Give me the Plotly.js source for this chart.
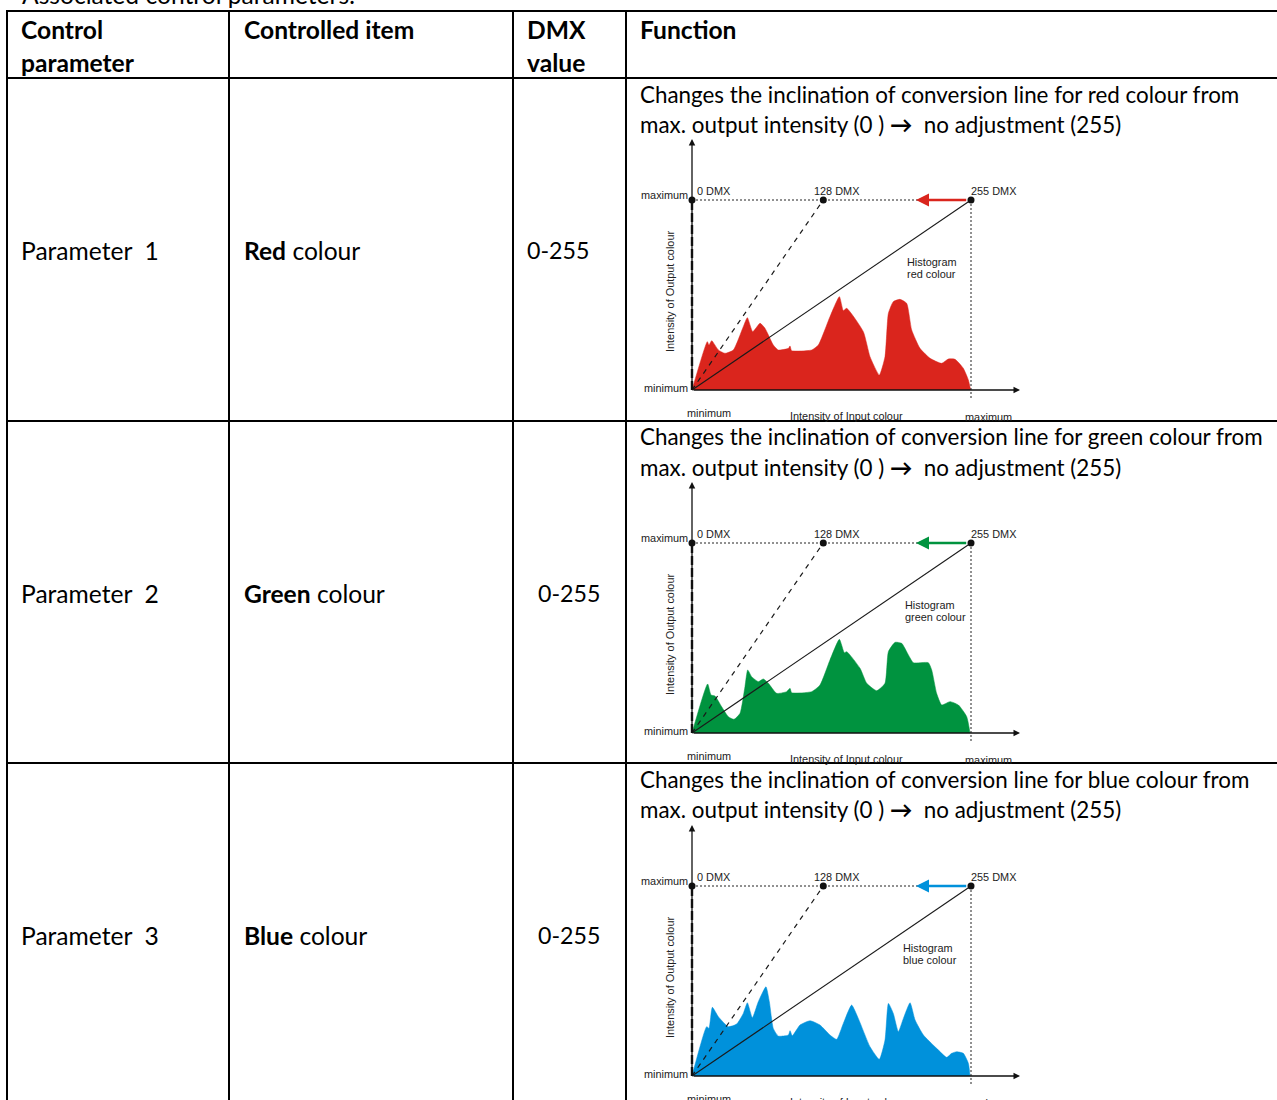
<!DOCTYPE html>
<html>
<head>
<meta charset="utf-8">
<script src="https://cdn.plot.ly/plotly-3.0.1.min.js"></script>
<style>html,body{margin:0;padding:0;background:#fff;}#chart{width:1277px;height:1100px;}</style>
</head>
<body>
<div id="chart"></div>
<script>
// ---------- data ----------
const headers = ["Control", "parameter", "Controlled item", "DMX", "value", "Function"];
const paramLabels = ["Parameter\u00a0\u00a01", "Parameter\u00a0\u00a02", "Parameter\u00a0\u00a03"];
const colourWords = ["Red", "Green", "Blue"];
const colourNames = ["red", "green", "blue"];
const dmxValues = ["0-255", "0-255", "0-255"];
const histColours = ["#da251d", "#00933f", "#0091db"];
const dmxPointX = [0, 120, 255];
const dmxPointY = [255, 255, 255];
const dmxPointLabels = ["0 DMX", "128 DMX", "255 DMX"];

const redX = [0,14.0,15.5,18.0,24.1,30.2,37.8,46.9,50.6,55.5,62.2,66.7,74.3,78.9,88.1,89.6,91.1,109.4,115.5,126.1,134.7,138.3,141.4,156.6,162.7,171.2,176.4,179.5,184.0,190.1,196.2,200.8,208.4,217.6,228.2,234.3,240.4,248.0,252.6,254.7];
const redY = [0,64.9,60.4,66.2,53.7,49.2,53.7,85.0,97.1,78.3,89.5,82.8,60.4,53.7,55.9,59.1,52.8,53.7,60.4,98.4,125.3,106.5,109.6,78.3,44.7,20.1,44.7,102.9,118.6,121.7,116.3,80.5,55.9,42.5,35.8,41.6,41.2,29.1,13.4,0];

const greenX = [0,14.3,17.4,21.0,27.1,33.2,38.4,43.9,48.4,50.9,54.5,60.6,65.2,69.8,77.4,86.5,89.6,91.1,109.4,117.0,126.1,134.7,139.2,141.4,153.6,159.7,168.8,176.4,179.5,185.6,191.7,197.8,202.3,216.0,219.1,223.6,228.2,235.8,243.5,251.1,254.1];
const greenY = [0,65.8,51.0,49.7,35.3,21.9,18.3,26.4,62.2,84.6,75.6,68.9,72.5,66.7,53.2,55.5,60.0,54.1,55.5,64.4,98.0,125.7,107.8,109.2,86.8,66.7,56.8,66.7,109.2,121.7,120.3,104.7,94.4,94.4,84.6,53.2,37.6,42.1,37.6,21.9,0];

const blueX = [0,13.4,15.5,18.6,24.1,33.2,40.8,46.9,50.6,55.2,60.6,67.6,70.7,74.3,78.9,88.1,89.6,91.7,98.7,107.9,117.0,126.1,132.2,138.3,145.9,152.0,162.7,171.2,176.4,179.5,184.0,188.6,193.2,199.3,203.9,211.5,223.6,232.8,237.3,241.9,248.0,252.6,254.1];
const blueY = [0,66.2,64.0,92.2,79.6,66.2,69.7,84.0,98.3,78.2,99.7,119.8,99.7,63.9,53.6,55.0,60.8,54.1,68.4,74.2,68.4,55.0,49.2,70.6,95.2,77.3,39.3,22.4,48.3,97.4,84.0,59.5,77.3,98.3,75.1,55.0,37.1,25.0,30.4,32.6,30.4,17.0,0];

const histX = [redX, greenX, blueX];
const histY = [redY, greenY, blueY];

// ---------- geometry helpers ----------
const W = 1277, H = 1100;
const px = v => v / W;
const py = v => 1 - v / H;
const rowTop = [78, 421, 763];
const originY = [390, 733, 1076];
const originX = 692, maxX = 971;
const kx = (maxX - originX) / 255;
const ky = 190 / 255;

const TFONT = "Lato, 'Open Sans', sans-serif";
const CFONT = "'Liberation Sans', Arial, sans-serif";
const cellSize = 24.6;
const funcSize = 22.4;

const traces = [];
const annotations = [];
const shapes = [];
const layout = {
  width: W, height: H,
  margin: {l: 0, r: 0, t: 0, b: 0},
  paper_bgcolor: "#fff", plot_bgcolor: "rgba(0,0,0,0)",
  showlegend: false,
  annotations: annotations,
  shapes: shapes
};

function txt(x, y, text, opts) {
  annotations.push(Object.assign({
    xref: "paper", yref: "paper", x: px(x - 2), y: py(y), text: text,
    showarrow: false, xanchor: "left", yanchor: "middle",
    font: {family: TFONT, size: cellSize, color: "#000"}
  }, opts || {}));
}

// ---------- table lines ----------
function hline(y, x0, x1) { shapes.push({type: "line", xref: "paper", yref: "paper", x0: px(x0), x1: px(x1), y0: py(y), y1: py(y), line: {color: "#000", width: 2}, layer: "above"}); }
function vline(x, y0, y1) { shapes.push({type: "line", xref: "paper", yref: "paper", x0: px(x), x1: px(x), y0: py(y0), y1: py(y1), line: {color: "#000", width: 2}, layer: "above"}); }
hline(11, 6, 1277);
hline(78, 6, 1277);
hline(421, 6, 1277);
hline(763, 6, 1277);
vline(7, 10, 1100);
vline(229, 10, 1100);
vline(513, 10, 1100);
vline(626, 10, 1100);

// ---------- header ----------
txt(22, -6, "Associated control parameters:");
txt(21, 30, "<b>" + headers[0] + "</b>");
txt(21, 62, "<b>" + headers[1] + "</b>");
txt(244, 30, "<b>" + headers[2] + "</b>");
txt(527, 30, "<b>" + headers[3] + "</b>");
txt(527, 62, "<b>" + headers[4] + "</b>");
txt(640, 30, "<b>" + headers[5] + "</b>");

// ---------- rows ----------
const dmxX = [527, 538, 538];
for (let r = 0; r < 3; r++) {
  const oy = originY[r];
  const mid = rowTop[r] + 172;
  txt(21, mid, paramLabels[r]);
  txt(244, mid, "<b>" + colourWords[r] + "</b> colour");
  txt(dmxX[r], mid, dmxValues[r], {font: {family: TFONT, size: 23.2, color: "#000"}});
  const ff = {family: TFONT, size: funcSize, color: "#000"};
  txt(640, rowTop[r] + 16, "Changes the inclination of conversion line for " + colourNames[r] + " colour from", {font: ff});
  txt(640, rowTop[r] + 46, "max. output intensity (0 ) <b>\u2192</b>\u00a0 no adjustment (255)", {font: ff});

  const n = r === 0 ? "" : String(r + 1);
  const xa = "x" + n, ya = "y" + n;
  const yTopPx = oy - 255, yBotPx = Math.min(oy + 24, H);
  layout["xaxis" + n] = {
    domain: [px(660), px(1030)], anchor: ya,
    range: [(660 - originX) / kx, (1030 - originX) / kx],
    visible: false, fixedrange: true
  };
  layout["yaxis" + n] = {
    domain: [py(yBotPx), py(yTopPx)], anchor: xa,
    range: [-(yBotPx - oy) / ky, (oy - yTopPx) / ky],
    visible: false, fixedrange: true
  };

  // histogram
  traces.push({x: histX[r], y: histY[r], xaxis: xa, yaxis: ya, type: "scatter", mode: "lines",
    fill: "tozeroy", fillcolor: histColours[r], line: {color: histColours[r], width: 0.5, shape: "spline", smoothing: 0.5}, hoverinfo: "skip"});
  // conversion line 255 DMX
  traces.push({x: [0, 255], y: [0, 255], xaxis: xa, yaxis: ya, mode: "lines", line: {color: "#1a1a1a", width: 1.1}, hoverinfo: "skip"});
  // conversion line 128 DMX
  traces.push({x: [0, dmxPointX[1]], y: [0, 255], xaxis: xa, yaxis: ya, mode: "lines", line: {color: "#1a1a1a", width: 1.2, dash: "5px,5px"}, hoverinfo: "skip"});
  // conversion line 0 DMX (vertical)
  traces.push({x: [0, 0], y: [0, 255], xaxis: xa, yaxis: ya, mode: "lines", line: {color: "#111", width: 2.4, dash: "9px,3px"}, hoverinfo: "skip"});
  // dotted maximum line
  traces.push({x: [0, 255], y: [255, 255], xaxis: xa, yaxis: ya, mode: "lines", line: {color: "#222", width: 1, dash: "2px,2px"}, hoverinfo: "skip"});
  // dotted vertical at maximum input
  traces.push({x: [255, 255], y: [255, -11], xaxis: xa, yaxis: ya, mode: "lines", line: {color: "#222", width: 1, dash: "2px,2px"}, hoverinfo: "skip"});
  // DMX points
  traces.push({x: dmxPointX, y: dmxPointY, xaxis: xa, yaxis: ya, mode: "markers", marker: {color: "#111", size: 7}, cliponaxis: false, hoverinfo: "skip"});

  // axes arrows
  annotations.push({xref: xa, yref: ya, axref: xa, ayref: ya, x: 0, y: 251 / ky, ax: 0, ay: 0, text: "",
    showarrow: true, arrowhead: 2, arrowsize: 1, arrowwidth: 1.3, arrowcolor: "#111", standoff: 0, startstandoff: 0});
  annotations.push({xref: xa, yref: ya, axref: xa, ayref: ya, x: (1020 - originX) / kx, y: 0, ax: 0, ay: 0, text: "",
    showarrow: true, arrowhead: 2, arrowsize: 1, arrowwidth: 1.3, arrowcolor: "#111", standoff: 0, startstandoff: 0});
  // coloured arrow
  annotations.push({xref: xa, yref: ya, axref: xa, ayref: ya, x: (916 - originX) / kx, y: 255, ax: 252, ay: 255, text: "",
    showarrow: true, arrowhead: 2, arrowsize: 1, arrowwidth: 2.6, arrowcolor: histColours[r], standoff: 0, startstandoff: 0});

  // chart labels
  const cf = {family: CFONT, size: 10.9, color: "#222"};
  txt(692, oy - 195, "maximum", {xanchor: "right", font: cf});
  txt(692, oy - 2, "minimum", {xanchor: "right", font: cf});
  txt(697, oy - 199, dmxPointLabels[0], {font: cf});
  txt(839, oy - 199, dmxPointLabels[1], {xanchor: "center", font: cf});
  txt(971, oy - 199, dmxPointLabels[2], {font: cf});
  const hx = [907, 905, 903][r];
  txt(hx, oy - 128, "Histogram", {font: cf});
  txt(hx, oy - 116, colourNames[r] + " colour", {font: cf});
  txt(672, oy - 98, "Intensity of Output colour", {xanchor: "center", textangle: -90, font: cf});
  txt(711, oy + 23, "minimum", {xanchor: "center", font: cf});
  txt(849, oy + 26, "Intensity of Input colour", {xanchor: "center", font: cf});
  txt(990, oy + 27, "maximum", {xanchor: "center", font: cf});
}

Plotly.newPlot("chart", traces, layout, {staticPlot: true, displayModeBar: false});
</script>
</body>
</html>
